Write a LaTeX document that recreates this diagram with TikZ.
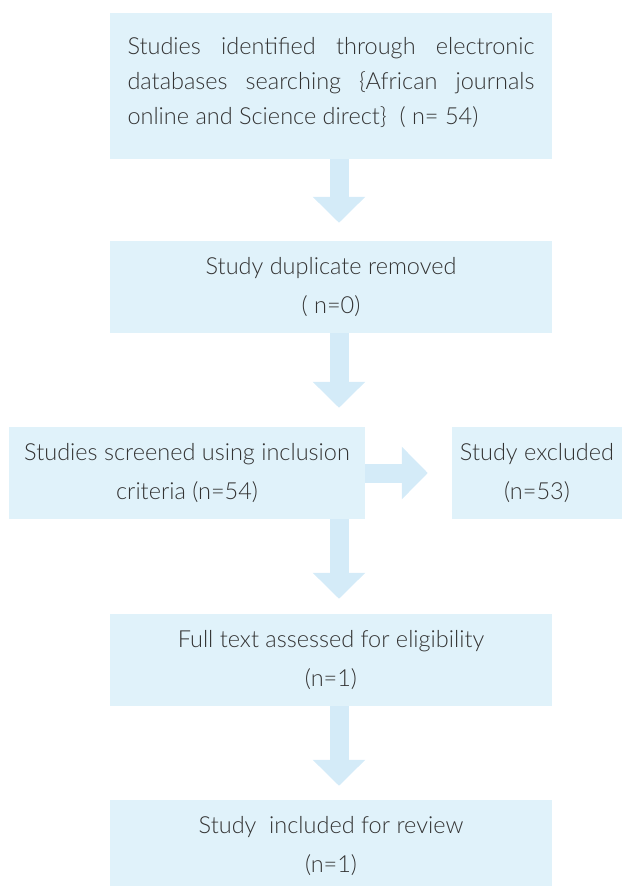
\documentclass[tikz,border=0pt]{standalone}
\usepackage{fontspec}
\setmainfont{Lato}[UprightFont=* Light]
\usetikzlibrary{arrows.meta}
\definecolor{boxblue}{HTML}{E0F2FA}
\definecolor{arrowblue}{HTML}{D4EBF8}
\definecolor{textgray}{HTML}{333333}

\begin{document}
\begin{tikzpicture}[x=1pt,y=-1pt,
    box/.style={fill=boxblue, text=textgray, inner sep=0pt, align=center,
        minimum width=442pt, minimum height=92pt, font=\fontsize{23.5}{39}\selectfont},
    flow/.style={arrowblue, line width=19pt, -{Triangle[width=51pt,length=26pt]}}]
    \useasboundingbox (0,0) rectangle (622,886);
    % boxes
    \node[box, minimum height=146pt, text width=407pt, align=justify,
        font=\fontsize{23.5}{35}\selectfont] (search) at (331,86)
        {\hyphenpenalty=10000 Studies identified through electronic databases searching \{African journals \mbox{online} and Science direct\} \ ( n= 54)\par\vspace{6pt}};
    \node[box] (dup) at (331,287) {Study duplicate removed\\( n=0)};
    \node[box, minimum width=356pt] (screen) at (187,473) {Studies screened using inclusion\\criteria (n=54)};
    \node[box, minimum width=170pt] (excl) at (537,473) {Study excluded\\(n=53)};
    \node[box] (full) at (331,660) {Full text assessed for eligibility\\(n=1)};
    \node[box] (incl) at (331,846) {Study \ included for review\\(n=1)};
    % arrows
    \draw[flow, shorten >=18pt] ([xshift=8pt]search.south) -- ([xshift=8pt]dup.north);
    \draw[flow, shorten >=19pt] ([xshift=8pt]dup.south) -- ([xshift=8pt]dup.south |- screen.north);
    \draw[flow, shorten >=24pt] (screen.east) -- (excl.west);
    \draw[flow, shorten >=15pt] ([xshift=8pt]full.north |- screen.south) -- ([xshift=8pt]full.north);
    \draw[flow, shorten >=14pt] ([xshift=8pt]full.south) -- ([xshift=8pt]incl.north);
\end{tikzpicture}
\end{document}
